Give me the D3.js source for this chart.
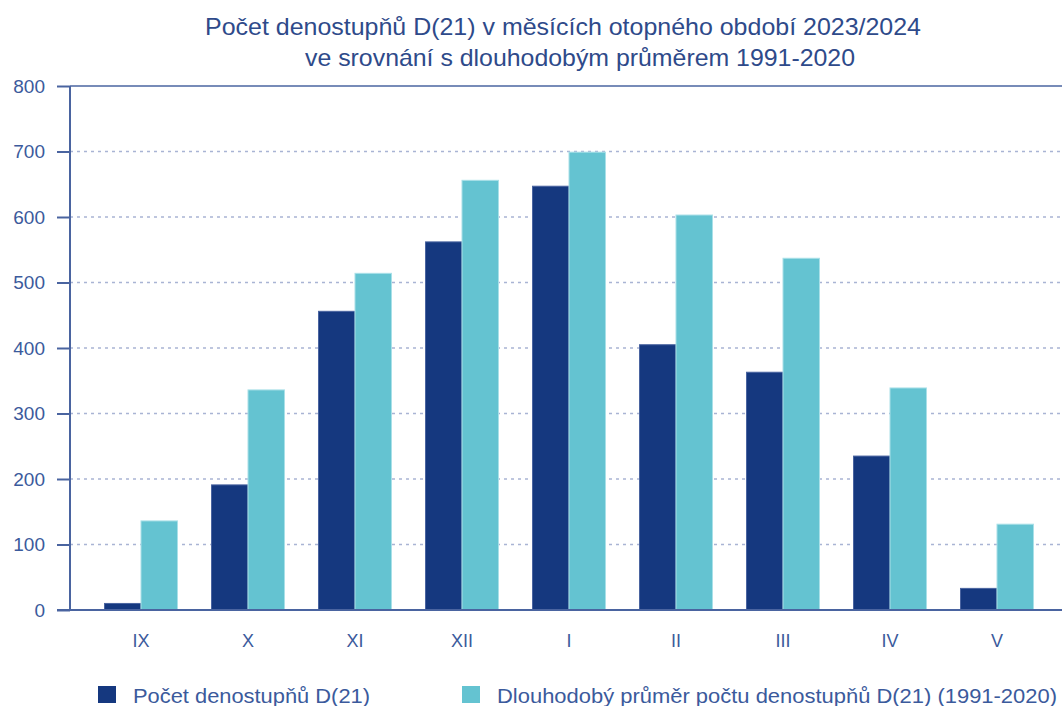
<!DOCTYPE html>
<html><head><meta charset="utf-8">
<script src="https://cdn.jsdelivr.net/npm/d3@7"></script>
<style>body{margin:0;background:#fff}svg{display:block}text{font-family:"Liberation Sans",Arial,sans-serif}</style>
</head><body><svg id="c" width="1062" height="706"></svg>
<script>
const categories = ["IX","X","XI","XII","I","II","III","IV","V"];
const current = [10,191,456,562,647,405,363,235,33];
const longTerm = [136,336,514,656,699,603,537,339,131];
const yTicks = [0,100,200,300,400,500,600,700,800];
const seriesNames = ["Počet denostupňů D(21)","Dlouhodobý průměr počtu denostupňů D(21) (1991-2020)"];
const titleLines = ["Počet denostupňů D(21) v měsících otopného období 2023/2024","ve srovnání s dlouhodobým průměrem 1991-2020"];

(function(){
const colors = ["#15387f","#64c3d1"];
const strokes = ["#4a64a0","#a9e0e8"];
const textCol = "#3b5a9c";
const axisCol = "#4a64a0";

const svg = d3.select("#c");
const pL=70, pR=1062, pT=86, pB=610;
const x = d3.scaleBand().domain(categories).range([87.5,1050.5]).paddingInner(0.318).paddingOuter(0.159);
const xs = d3.scaleBand().domain([0,1]).range([0,x.bandwidth()]);
const y = d3.scaleLinear().domain([0,800]).range([pB,pT]);

// title
svg.append("text").attr("x",563).attr("y",35).attr("text-anchor","middle").attr("fill","#2e4a8a")
  .attr("font-size",24).attr("textLength",716).attr("lengthAdjust","spacingAndGlyphs").text(titleLines[0]);
svg.append("text").attr("x",580).attr("y",66).attr("text-anchor","middle").attr("fill","#2e4a8a")
  .attr("font-size",24).attr("textLength",550).attr("lengthAdjust","spacingAndGlyphs").text(titleLines[1]);

// grid
svg.append("g").selectAll("line").data(yTicks.filter(d=>d>0&&d<800)).join("line")
  .attr("x1",pL).attr("x2",pR).attr("y1",d=>y(d)).attr("y2",d=>y(d))
  .attr("stroke","#a9b4d4").attr("stroke-width",1.5).attr("stroke-dasharray","3,4");
svg.append("line").attr("x1",pL).attr("x2",pR).attr("y1",y(800)).attr("y2",y(800)).attr("stroke",axisCol).attr("stroke-width",1.5);

// bars
const series=[current,longTerm];
series.forEach((vals,si)=>{
  svg.append("g").selectAll("rect").data(vals).join("rect")
    .attr("x",(d,i)=>x(categories[i])+xs(si)).attr("width",xs.bandwidth())
    .attr("y",d=>y(d)).attr("height",d=>y(0)-y(d))
    .attr("fill",colors[si]).attr("stroke",strokes[si]).attr("stroke-width",1);
});

// y axis
const ya = svg.append("g").attr("transform",`translate(${pL},0)`)
  .call(d3.axisLeft(y).tickValues(yTicks).tickSize(13).tickPadding(12));
ya.select(".domain").remove();
ya.selectAll(".tick line").attr("stroke",axisCol).attr("stroke-width",2);
ya.selectAll(".tick text").attr("fill",textCol).attr("font-size",19).attr("font-family","Liberation Sans, Arial, sans-serif");
svg.append("line").attr("x1",pL).attr("x2",pL).attr("y1",pT).attr("y2",pB).attr("stroke",axisCol).attr("stroke-width",2);
svg.append("line").attr("x1",pL-13).attr("x2",pR).attr("y1",pB).attr("y2",pB).attr("stroke",axisCol).attr("stroke-width",2);

// x axis labels
const xa = svg.append("g").attr("transform",`translate(0,${pB})`)
  .call(d3.axisBottom(x).tickSize(0).tickPadding(24));
xa.select(".domain").remove();
xa.selectAll(".tick text").attr("fill",textCol).attr("font-size",18).attr("font-family","Liberation Sans, Arial, sans-serif");

// legend
const leg=[{x:98,tx:133,w:237},{x:462,tx:497,w:560}];
leg.forEach((l,i)=>{
  svg.append("rect").attr("x",l.x).attr("y",686).attr("width",18).attr("height",17).attr("fill",colors[i]);
  svg.append("text").attr("x",l.tx).attr("y",703).attr("fill",textCol).attr("font-size",21)
    .attr("textLength",l.w).attr("lengthAdjust","spacingAndGlyphs").text(seriesNames[i]);
});
})();
</script></body></html>
